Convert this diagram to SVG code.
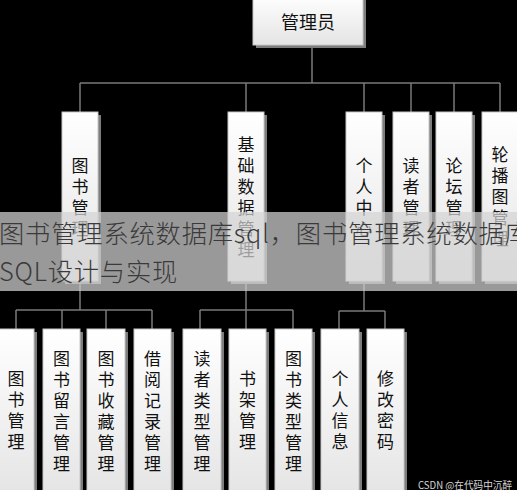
<svg xmlns="http://www.w3.org/2000/svg" width="517" height="490" viewBox="0 0 517 490">
<defs>
<linearGradient id="g" x1="0" y1="0" x2="0" y2="1">
<stop offset="0" stop-color="#ffffff"/>
<stop offset="1" stop-color="#e4e4e4"/>
</linearGradient>
</defs>
<style>
.sh{fill:#7d7d7d}
.bx{fill:url(#g);stroke:#c8c8c8;stroke-width:1}
.t{font-family:"Noto Sans CJK SC","Noto Sans",sans-serif;font-size:17px;fill:#111;text-anchor:middle}
.c{fill:none;stroke:#7a7a7a;stroke-width:1.5}
.ov{font-family:"Noto Sans CJK SC","Noto Sans",sans-serif;font-size:25.3px;font-weight:300;fill:#3a3a3a;letter-spacing:0.8px}
</style>
<rect x="0" y="0" width="517" height="490" fill="#000"/>
<g id="connectors" class="c">
<path d="M312 45V83M80 83H500M80 83V112M246 83V112M364 83V112M411 83V112M454 83V112M500 83V112"/>
<path d="M80 281V310M16 310H152M16 310V329M62 310V329M106 310V329M152 310V329"/>
<path d="M246 281V329M200 310H293M200 310V329M293 310V329"/>
<path d="M364 281V311M339 311H385M339 311V329M385 311V329"/>
</g>
<g id="n-admin">
<rect class="sh" x="256" y="-2" width="110" height="50"/>
<rect class="bx" x="253" y="-5" width="110" height="50"/>
<text class="t" x="308" y="29" style="font-size:18px">管理员</text>
</g>
<g id="n-book">
<rect class="sh" x="65" y="115" width="36" height="169"/>
<rect class="bx" x="62" y="112" width="36" height="169"/>
<text class="t"><tspan x="80" y="171.5">图</tspan><tspan x="80" y="192.5">书</tspan><tspan x="80" y="213.5">管</tspan><tspan x="80" y="234.5">理</tspan></text>
</g>
<g id="n-base">
<rect class="sh" x="231" y="115" width="36" height="169"/>
<rect class="bx" x="228" y="112" width="36" height="169"/>
<text class="t"><tspan x="246" y="150.5">基</tspan><tspan x="246" y="171.5">础</tspan><tspan x="246" y="192.5">数</tspan><tspan x="246" y="213.5">据</tspan><tspan x="246" y="234.5">管</tspan><tspan x="246" y="255.5">理</tspan></text>
</g>
<g id="n-center">
<rect class="sh" x="349" y="115" width="36" height="169"/>
<rect class="bx" x="346" y="112" width="36" height="169"/>
<text class="t"><tspan x="364" y="171.5">个</tspan><tspan x="364" y="192.5">人</tspan><tspan x="364" y="213.5">中</tspan><tspan x="364" y="234.5">心</tspan></text>
</g>
<g id="n-reader">
<rect class="sh" x="396" y="115" width="36" height="169"/>
<rect class="bx" x="393" y="112" width="36" height="169"/>
<text class="t"><tspan x="411" y="171.5">读</tspan><tspan x="411" y="192.5">者</tspan><tspan x="411" y="213.5">管</tspan><tspan x="411" y="234.5">理</tspan></text>
</g>
<g id="n-forum">
<rect class="sh" x="439" y="115" width="36" height="169"/>
<rect class="bx" x="436" y="112" width="36" height="169"/>
<text class="t"><tspan x="454" y="171.5">论</tspan><tspan x="454" y="192.5">坛</tspan><tspan x="454" y="213.5">管</tspan><tspan x="454" y="234.5">理</tspan></text>
</g>
<g id="n-carousel">
<rect class="sh" x="485" y="115" width="36" height="169"/>
<rect class="bx" x="482" y="112" width="36" height="169"/>
<text class="t"><tspan x="500" y="161">轮</tspan><tspan x="500" y="182">播</tspan><tspan x="500" y="203">图</tspan><tspan x="500" y="224">管</tspan><tspan x="500" y="245">理</tspan></text>
</g>
<g id="n-bookmgr">
<rect class="sh" x="1" y="332" width="36" height="170"/>
<rect class="bx" x="-2" y="329" width="36" height="170"/>
<text class="t"><tspan x="16" y="385">图</tspan><tspan x="16" y="406">书</tspan><tspan x="16" y="427">管</tspan><tspan x="16" y="448">理</tspan></text>
</g>
<g id="n-msg">
<rect class="sh" x="46" y="332" width="37" height="170"/>
<rect class="bx" x="43" y="329" width="37" height="170"/>
<text class="t"><tspan x="61.5" y="364.5">图</tspan><tspan x="61.5" y="385.5">书</tspan><tspan x="61.5" y="406.5">留</tspan><tspan x="61.5" y="427.5">言</tspan><tspan x="61.5" y="448.5">管</tspan><tspan x="61.5" y="469.5">理</tspan></text>
</g>
<g id="n-fav">
<rect class="sh" x="90" y="332" width="38" height="170"/>
<rect class="bx" x="87" y="329" width="38" height="170"/>
<text class="t"><tspan x="106" y="364.5">图</tspan><tspan x="106" y="385.5">书</tspan><tspan x="106" y="406.5">收</tspan><tspan x="106" y="427.5">藏</tspan><tspan x="106" y="448.5">管</tspan><tspan x="106" y="469.5">理</tspan></text>
</g>
<g id="n-borrow">
<rect class="sh" x="137" y="332" width="37" height="170"/>
<rect class="bx" x="134" y="329" width="37" height="170"/>
<text class="t"><tspan x="152.5" y="364.5">借</tspan><tspan x="152.5" y="385.5">阅</tspan><tspan x="152.5" y="406.5">记</tspan><tspan x="152.5" y="427.5">录</tspan><tspan x="152.5" y="448.5">管</tspan><tspan x="152.5" y="469.5">理</tspan></text>
</g>
<g id="n-readertype">
<rect class="sh" x="186" y="332" width="38" height="170"/>
<rect class="bx" x="183" y="329" width="38" height="170"/>
<text class="t"><tspan x="202" y="364.5">读</tspan><tspan x="202" y="385.5">者</tspan><tspan x="202" y="406.5">类</tspan><tspan x="202" y="427.5">型</tspan><tspan x="202" y="448.5">管</tspan><tspan x="202" y="469.5">理</tspan></text>
</g>
<g id="n-shelf">
<rect class="sh" x="232" y="332" width="37" height="170"/>
<rect class="bx" x="229" y="329" width="37" height="170"/>
<text class="t"><tspan x="247.5" y="385">书</tspan><tspan x="247.5" y="406">架</tspan><tspan x="247.5" y="427">管</tspan><tspan x="247.5" y="448">理</tspan></text>
</g>
<g id="n-booktype">
<rect class="sh" x="278" y="332" width="37" height="170"/>
<rect class="bx" x="275" y="329" width="37" height="170"/>
<text class="t"><tspan x="293.5" y="364.5">图</tspan><tspan x="293.5" y="385.5">书</tspan><tspan x="293.5" y="406.5">类</tspan><tspan x="293.5" y="427.5">型</tspan><tspan x="293.5" y="448.5">管</tspan><tspan x="293.5" y="469.5">理</tspan></text>
</g>
<g id="n-info">
<rect class="sh" x="324" y="332" width="38" height="170"/>
<rect class="bx" x="321" y="329" width="38" height="170"/>
<text class="t"><tspan x="340" y="385">个</tspan><tspan x="340" y="406">人</tspan><tspan x="340" y="427">信</tspan><tspan x="340" y="448">息</tspan></text>
</g>
<g id="n-pwd">
<rect class="sh" x="370" y="332" width="37" height="170"/>
<rect class="bx" x="367" y="329" width="37" height="170"/>
<text class="t"><tspan x="385.5" y="385">修</tspan><tspan x="385.5" y="406">改</tspan><tspan x="385.5" y="427">密</tspan><tspan x="385.5" y="448">码</tspan></text>
</g>
<g id="overlay">
<rect x="0" y="212" width="517" height="79" fill="#d4d4d4" opacity="0.72"/>
<text class="ov" x="-1" y="243">图书管理系统数据库sql，图书管理系统数据库</text>
<text class="ov" x="-1" y="281">SQL设计与实现</text>
</g>
<text x="418" y="489" textLength="94" lengthAdjust="spacingAndGlyphs" style="font-family:'Noto Sans CJK SC','Noto Sans',sans-serif;font-size:10px;fill:#d8d8d8">CSDN @在代码中沉醉</text>
</svg>
